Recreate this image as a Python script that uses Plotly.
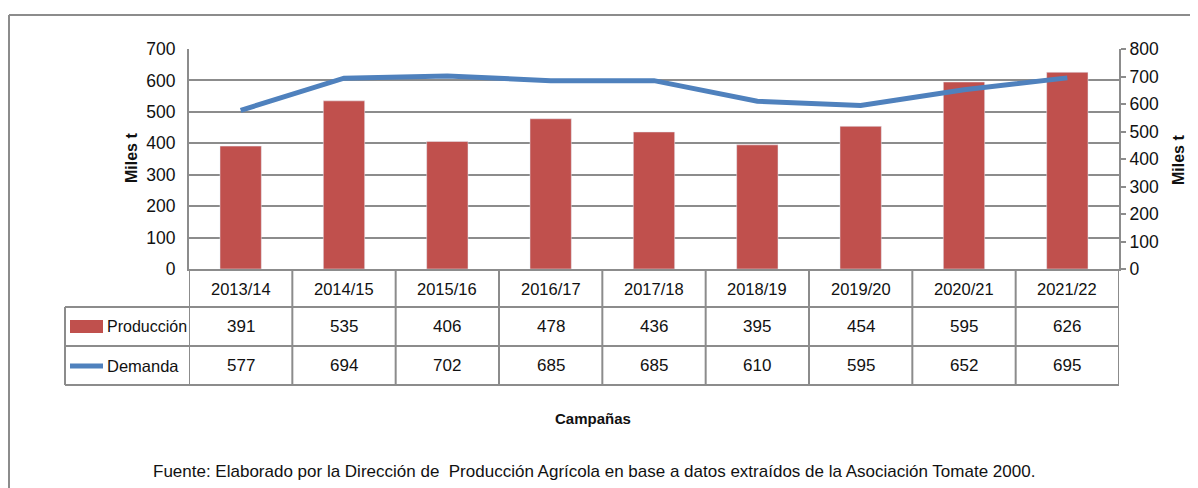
import plotly.graph_objects as go

campanas = ["2013/14", "2014/15", "2015/16", "2016/17", "2017/18",
            "2018/19", "2019/20", "2020/21", "2021/22"]
produccion = [391, 535, 406, 478, 436, 395, 454, 595, 626]
demanda = [577, 694, 702, 685, 685, 610, 595, 652, 695]

OFF = 8  # browser body margin
W, H = 1198 - OFF, 488 - OFF
L, R, T, B = 189, 1119, 49, 269
PW, PH = R - L, B - T

def px(x):
    return (x - L) / PW

def py(y):
    return (B - y) / PH

FONT = "Liberation Sans, Arial, sans-serif"
GRID = "#8c8c8c"
RED = "#C0504D"
BLUE = "#4F81BD"
TXT = "#111111"

n = len(campanas)
xs = list(range(n))

fig = go.Figure()
fig.add_trace(go.Bar(x=xs, y=produccion, name="Producción", marker_color=RED,
                     width=0.4, yaxis="y"))
fig.add_trace(go.Scatter(x=xs, y=demanda, name="Demanda", mode="lines",
                         line=dict(color=BLUE, width=5), yaxis="y2"))

shapes = []
ann = []
line_style = dict(color=GRID, width=2)

# Outer chart border (top and left)
shapes.append(dict(type="line", xref="paper", yref="paper", x0=px(9), x1=px(1210),
                   y0=py(15), y1=py(15), line=line_style))
shapes.append(dict(type="line", xref="paper", yref="paper", x0=px(9), x1=px(9),
                   y0=py(15), y1=py(500), line=line_style))

# Data table
row_y = [269, 307, 346, 385]
for yy in row_y[1:]:
    shapes.append(dict(type="line", xref="paper", yref="paper", x0=px(65), x1=px(R),
                       y0=py(yy), y1=py(yy), line=line_style))
for i in range(n + 1):
    shapes.append(dict(type="line", xref="x", yref="paper", x0=i - 0.5, x1=i - 0.5,
                       y0=py(269), y1=py(385), line=line_style))
shapes.append(dict(type="line", xref="paper", yref="paper", x0=px(65), x1=px(65),
                   y0=py(307), y1=py(385), line=line_style))

# legend keys in table
shapes.append(dict(type="rect", xref="paper", yref="paper", x0=px(70), x1=px(103),
                   y0=py(320), y1=py(333), fillcolor=RED, line=dict(width=0)))
shapes.append(dict(type="line", xref="paper", yref="paper", x0=px(70), x1=px(103),
                   y0=py(366), y1=py(366), line=dict(color=BLUE, width=5)))
ann.append(dict(text="Producción", xref="paper", yref="paper", x=px(105), y=py(326.5),
                xanchor="left", yanchor="middle", showarrow=False,
                font=dict(family=FONT, size=16, color=TXT)))
ann.append(dict(text="Demanda", xref="paper", yref="paper", x=px(105), y=py(365.5),
                xanchor="left", yanchor="middle", showarrow=False,
                font=dict(family=FONT, size=16.5, color=TXT)))

for i, c in enumerate(campanas):
    ann.append(dict(text=c, xref="x", yref="paper", x=i, y=py(288.5),
                    xanchor="center", yanchor="middle", showarrow=False,
                    font=dict(family=FONT, size=16.5, color=TXT)))
    ann.append(dict(text=str(produccion[i]), xref="x", yref="paper", x=i, y=py(326.5),
                    xanchor="center", yanchor="middle", showarrow=False,
                    font=dict(family=FONT, size=17, color=TXT)))
    ann.append(dict(text=str(demanda[i]), xref="x", yref="paper", x=i, y=py(365.5),
                    xanchor="center", yanchor="middle", showarrow=False,
                    font=dict(family=FONT, size=17, color=TXT)))

# Axis titles
ann.append(dict(text="<b>Miles t</b>", xref="paper", yref="paper", x=px(131), y=py(158),
                textangle=-90, xanchor="center", yanchor="middle", showarrow=False,
                font=dict(family=FONT, size=16, color=TXT)))
ann.append(dict(text="<b>Miles t</b>", xref="paper", yref="paper", x=px(1178), y=py(160),
                textangle=-90, xanchor="center", yanchor="middle", showarrow=False,
                font=dict(family=FONT, size=16, color=TXT)))
ann.append(dict(text="<b>Campañas</b>", xref="paper", yref="paper", x=px(593), y=py(418),
                xanchor="center", yanchor="middle", showarrow=False,
                font=dict(family=FONT, size=15, color=TXT)))
ann.append(dict(text="Fuente: Elaborado por la Dirección de  Producción Agrícola en base a datos extraídos de la Asociación Tomate 2000.",
                xref="paper", yref="paper", x=px(594), y=py(471),
                xanchor="center", yanchor="middle", showarrow=False,
                font=dict(family=FONT, size=17, color=TXT)))

fig.update_layout(
    width=W, height=H,
    margin=dict(l=L - OFF, r=W - (R - OFF), t=T - OFF, b=H - (B - OFF), pad=0),
    paper_bgcolor="white", plot_bgcolor="white",
    showlegend=False,
    xaxis=dict(range=[-0.5, n - 0.5], showticklabels=False, ticks="",
               showgrid=False, zeroline=False, showline=True,
               linecolor=GRID, linewidth=2, fixedrange=True),
    yaxis=dict(range=[0, 700], dtick=100, showgrid=True, gridcolor=GRID, gridwidth=2,
               zeroline=False, showline=True, linecolor=GRID, linewidth=2,
               ticks="", ticklabelstandoff=8,
               tickfont=dict(family=FONT, size=17.5, color=TXT)),
    yaxis2=dict(range=[0, 800], dtick=100, overlaying="y", side="right",
                showgrid=False, zeroline=False, showline=True, linecolor=GRID,
                linewidth=2, ticks="outside", ticklen=5, tickcolor=GRID, tickwidth=2,
                tickfont=dict(family=FONT, size=17.5, color=TXT)),
    shapes=shapes,
    annotations=ann,
)

fig.write_html("out.html")
